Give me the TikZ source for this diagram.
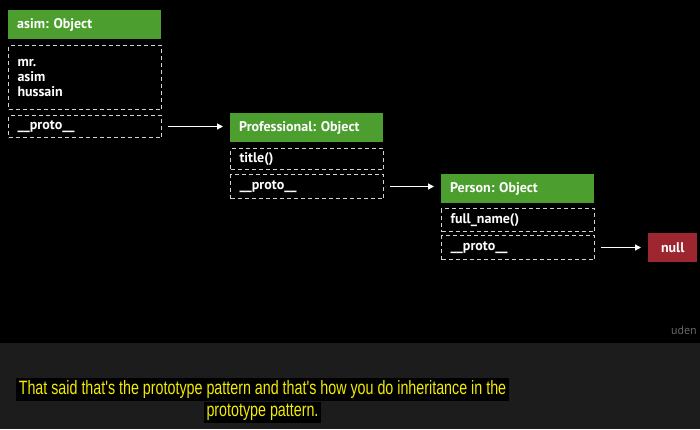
\documentclass[tikz,border=0pt]{standalone}
\usepackage{fontspec}
\setmainfont{PT Sans}
\newfontfamily\capfont[FakeStretch=0.74]{Liberation Sans}
\usetikzlibrary{arrows.meta}
\definecolor{hdrgreen}{RGB}{76,158,46}
\definecolor{nullred}{RGB}{158,38,48}
\definecolor{dashgray}{RGB}{210,210,210}
\definecolor{capyellow}{RGB}{242,236,0}
\definecolor{bandgray}{RGB}{28,28,28}
\frenchspacing
\begin{document}
\begin{tikzpicture}[x=1pt,y=-1pt,
  boxfont/.style={font=\bfseries\fontsize{14}{15}\selectfont},
  hdr/.style={boxfont, fill=hdrgreen, text=white, anchor=north west, minimum width=153pt, text width=135pt, inner xsep=9pt, inner ysep=0pt, align=left},
  slot/.style={boxfont, draw=dashgray, line width=1pt, dash pattern=on 4pt off 3pt, text=white, anchor=north west, minimum width=153pt, text width=135pt, inner xsep=9pt, inner ysep=0pt, align=left},
  link/.style={draw=white, line width=1.2pt, -{Triangle[length=6pt,width=6pt]}, shorten <=6pt, shorten >=7pt},
  caption/.style={font=\capfont\fontsize{19.3}{21}\selectfont, text=capyellow, fill=black, inner xsep=3pt, inner ysep=2.2pt}
]
\useasboundingbox (0,0) rectangle (700,429);
\fill[black] (0,0) rectangle (700,343);
\fill[bandgray] (0,343) rectangle (700,429);

% asim
\node[hdr, minimum height=29pt] (asimh) at (8,10) {asim: Object};
\node[slot, minimum height=64pt] (asimb) at (8,45) {mr.\\asim\\hussain};
\node[slot, minimum height=22pt] (asimp) at (8,115) {\_\_proto\_\_};

% Professional
\node[hdr, minimum height=29pt] (profh) at (230,113) {Professional: Object};
\node[slot, minimum height=21pt] (proft) at (230,148) {title()};
\node[slot, minimum height=24pt] (profp) at (230,174) {\_\_proto\_\_};

% Person
\node[hdr, minimum height=29pt] (persh) at (441,174) {Person: Object};
\node[slot, minimum height=23pt] (persf) at (441,208) {full\_name()};
\node[slot, minimum height=24pt] (persp) at (441,235) {\_\_proto\_\_};

% null
\node[boxfont, fill=nullred, text=white, anchor=north west, minimum width=49pt, minimum height=29pt, inner sep=0pt] (nullb) at (648,233) {null};

% links
\draw[link] (asimp.east) -- (asimp.east -| profh.west);
\draw[link] (profp.east) -- (profp.east -| persh.west);
\draw[link] (persp.east) -- (persp.east -| nullb.west);

% watermark
\node[anchor=west, text=white!40!black, font=\fontsize{12}{14}\selectfont, inner sep=0pt] (wm) at (671,330) {uden};

% caption
\node[caption] (cap1) at (262.5,389.5) {That said that's the prototype pattern and that's how you do inheritance in the};
\node[caption] (cap2) at (262.5,412.5) {prototype pattern.};
\end{tikzpicture}
\end{document}
